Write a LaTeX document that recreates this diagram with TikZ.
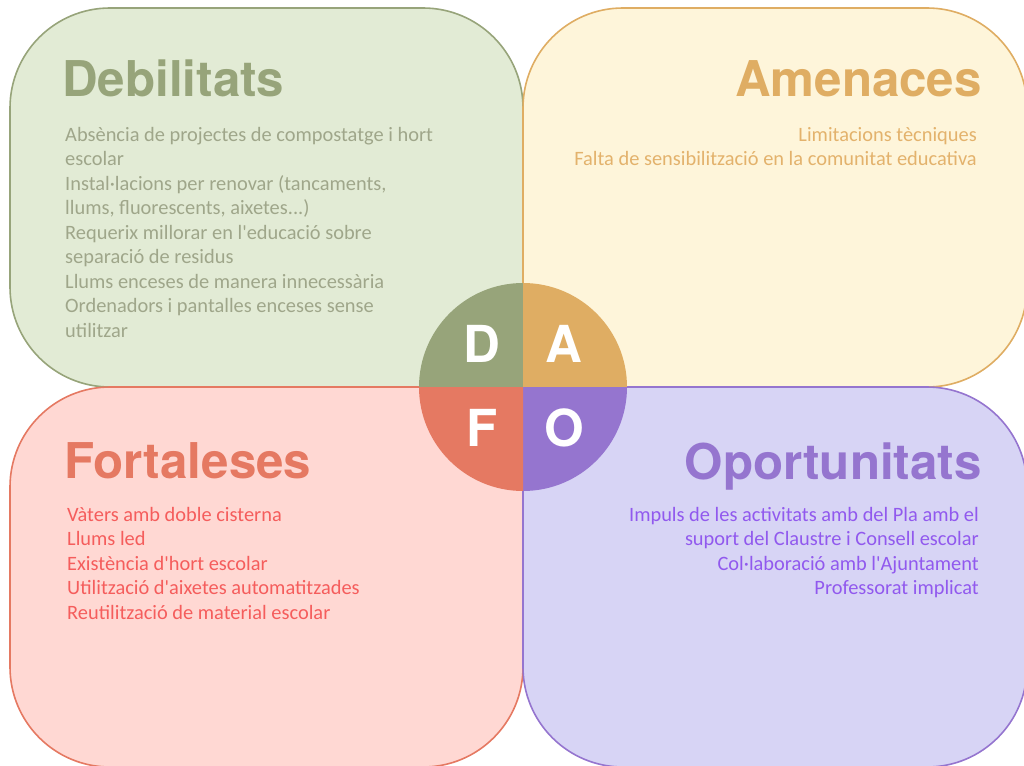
\documentclass[tikz,border=0pt]{standalone}
\usepackage{fontspec}
\setmainfont{Carlito}
\newfontfamily\headfont{TeX Gyre Heros}
\usepackage{xcolor}
\usepackage{tikz}

\definecolor{debfill}{HTML}{E2EBD5}
\definecolor{debline}{HTML}{97A47A}
\definecolor{debtxt}{HTML}{9FA68A}
\definecolor{amefill}{HTML}{FEF5DA}
\definecolor{ameline}{HTML}{DFAD63}
\definecolor{ametxt}{HTML}{E3B26C}
\definecolor{forfill}{HTML}{FFD8D3}
\definecolor{forline}{HTML}{E57962}
\definecolor{fortxt}{HTML}{F55D5C}
\definecolor{opofill}{HTML}{D7D4F5}
\definecolor{opoline}{HTML}{9575CF}
\definecolor{opotxt}{HTML}{9159EE}

% straight apostrophe, not the curly one
\newcommand{\sq}{\XeTeXglyph\XeTeXcharglyph"27\relax}

\begin{document}
\begin{tikzpicture}[x=1pt,y=-1pt]
	\tikzstyle{every node}=[inner sep=0pt]
	\tikzstyle{quad}=[line width=1.6pt, rounded corners=100pt]
	\tikzstyle{head}=[font=\headfont\fontsize{49.3}{49.3}\selectfont\bfseries]
	\tikzstyle{body}=[font=\fontsize{20.4}{24.5}\selectfont]
	\tikzstyle{letter}=[font=\headfont\fontsize{51}{51}\selectfont\bfseries, text=white]
		\useasboundingbox (0,0) rectangle (1024,765);
		\clip (0,0) rectangle (1024,765);
		% the four boxes
		\draw [quad, draw=debline, fill=debfill] (10,8) rectangle (523,387);
		\draw [quad, draw=ameline, fill=amefill] (523,8) rectangle (1027,387);
		\draw [quad, draw=forline, fill=forfill] (10,387) rectangle (523,767);
		\draw [quad, draw=opoline, fill=opofill] (523,387) rectangle (1027,767);
		% titles
		\node [head, text=debline, anchor=base west] (debtitle) at (62,97) {Debilitats};
		\node [head, text=ameline, anchor=base east] (amentitle) at (982,97) {Amenaces};
		\node [head, text=forline, anchor=base west] (forttitle) at (64,478) {Fortaleses};
		\node [head, text=opoline, anchor=base east] (opotitle) at (982,479) {Oportunitats};
		% lists
		\node [body, text=debtxt, anchor=north west, align=left] (debtext) at (65,127) {Absència de projectes de compostatge i hort\\
			escolar\\
			Instal·lacions per renovar (tancaments,\\
			llums, fluorescents, aixetes...)\\
			Requerix millorar en l\sq educació sobre\\
			separació de residus\\
			Llums enceses de manera innecessària\\
			Ordenadors i pantalles enceses sense\\
			utilitzar};
		\node [body, text=ametxt, anchor=north east, align=right] (amentext) at (977,127) {Limitacions tècniques\\
			Falta de sensibilització en la comunitat educativa};
		\node [body, text=fortxt, anchor=north west, align=left] (forttext) at (67,507) {Vàters amb doble cisterna\\
			Llums led\\
			Existència d\sq hort escolar\\
			Utilització d\sq aixetes automatitzades\\
			Reutilització de material escolar};
		\node [body, text=opotxt, anchor=north east, align=right] (opotext) at (979,507) {Impuls de les activitats amb del Pla amb el\\
			suport del Claustre i Consell escolar\\
			Col·laboració amb l\sq Ajuntament\\
			Professorat implicat};
		% DAFO circle
		\fill [debline] (523,387) -- (419,387) arc [start angle=180, end angle=270, radius=104] -- cycle;
		\fill [ameline] (523,387) -- (523,283) arc [start angle=270, end angle=360, radius=104] -- cycle;
		\fill [opoline] (523,387) -- (627,387) arc [start angle=0, end angle=90, radius=104] -- cycle;
		\fill [forline] (523,387) -- (523,491) arc [start angle=90, end angle=180, radius=104] -- cycle;
		\node [letter] (lblD) at (482,344) {D};
		\node [letter] (lblA) at (564,344) {A};
		\node [letter] (lblF) at (482,428) {F};
		\node [letter] (lblO) at (564,428) {O};
	\end{tikzpicture}
\end{document}
